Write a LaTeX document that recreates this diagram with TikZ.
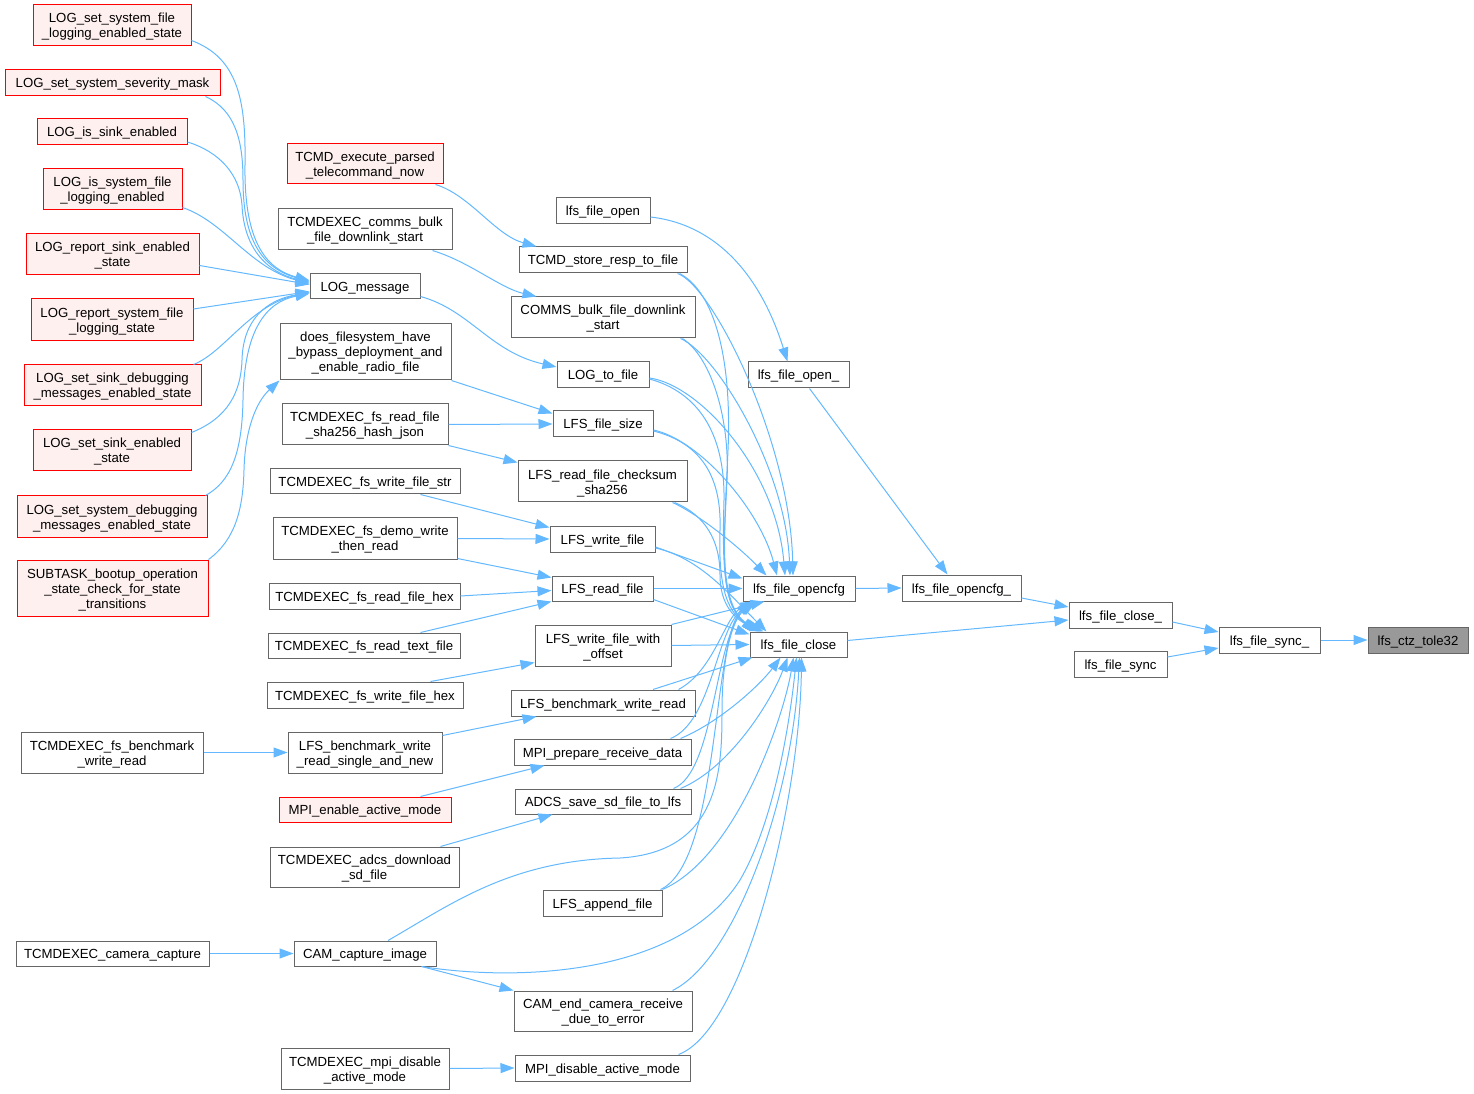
\documentclass[tikz,border=0pt]{standalone}
\usepackage{fontspec}
\setmainfont{Liberation Sans}
\usetikzlibrary{arrows.meta,calc}
\definecolor{edgec}{HTML}{63B8FF}
\definecolor{boxc}{HTML}{666666}
\definecolor{redc}{HTML}{FF0000}
\definecolor{redf}{HTML}{FFF0F0}
\definecolor{rootf}{HTML}{999999}
\tikzset{
 nbase/.style={rectangle, draw=boxc, fill=white, line width=0.75pt, inner sep=0pt, align=center, text=black, font=\fontsize{9.9}{11.25}\selectfont},
 gbox/.style={nbase},
 rbox/.style={nbase, draw=redc, fill=redf},
 rootbox/.style={nbase, fill=rootf},
 cedge/.style={draw=edgec, line width=0.75pt, -{Triangle[length=10.5pt,width=7.5pt]}},
}
\newcommand{\topstrut}{\rule{0pt}{10pt}}
\newcommand{\botstrut}{\rule[-2.5pt]{0pt}{2.5pt}}
\newcommand{\bx}[7]{\node[#7, minimum width={(#4-#2)*0.75pt}, minimum height={(#5-#3)*0.75pt}] (#1) at ({(#2+#4)/2},{(#3+#5)/2}) {\topstrut#6\botstrut};}
\begin{document}
\begin{tikzpicture}[x=0.75pt,y=-0.75pt]
\useasboundingbox (0,0) rectangle (1474,1094);
% column 1
\bx{lsfl}{33}{5}{191}{46}{LOG\_set\_system\_file\\\_logging\_enabled\_state}{rbox}
\bx{lssm}{5}{70}{220}{96}{LOG\_set\_system\_severity\_mask}{rbox}
\bx{lise}{37}{119}{187}{145}{LOG\_is\_sink\_enabled}{rbox}
\bx{lisf}{43}{169}{182}{210}{LOG\_is\_system\_file\\\_logging\_enabled}{rbox}
\bx{lrse}{26}{234}{199}{275}{LOG\_report\_sink\_enabled\\\_state}{rbox}
\bx{lrsf}{31}{299}{193}{341}{LOG\_report\_system\_file\\\_logging\_state}{rbox}
\bx{lssd}{24}{365}{201}{406}{LOG\_set\_sink\_debugging\\\_messages\_enabled\_state}{rbox}
\bx{lsse}{33}{430}{191}{471}{LOG\_set\_sink\_enabled\\\_state}{rbox}
\bx{lsyd}{17}{496}{207}{537}{LOG\_set\_system\_debugging\\\_messages\_enabled\_state}{rbox}
\bx{sub}{17}{560}{208}{616}{SUBTASK\_bootup\_operation\\\_state\_check\_for\_state\\\_transitions}{rbox}
\bx{tbw}{21}{732}{203}{773}{TCMDEXEC\_fs\_benchmark\\\_write\_read}{gbox}
\bx{tcc}{16}{941}{209}{966}{TCMDEXEC\_camera\_capture}{gbox}
% column 2
\bx{tcmdexe}{287}{144}{443}{184}{TCMD\_execute\_parsed\\\_telecommand\_now}{rbox}
\bx{tcbf}{278}{209}{452}{250}{TCMDEXEC\_comms\_bulk\\\_file\_downlink\_start}{gbox}
\bx{logm}{310}{274}{420}{299}{LOG\_message}{gbox}
\bx{dfs}{280}{324}{451}{380}{does\_filesystem\_have\\\_bypass\_deployment\_and\\\_enable\_radio\_file}{gbox}
\bx{tfsh}{282}{404}{448}{445}{TCMDEXEC\_fs\_read\_file\\\_sha256\_hash\_json}{gbox}
\bx{tfws}{270}{469}{460}{494}{TCMDEXEC\_fs\_write\_file\_str}{gbox}
\bx{tfdw}{273}{518}{457}{559}{TCMDEXEC\_fs\_demo\_write\\\_then\_read}{gbox}
\bx{tfrh}{269}{583}{460}{609}{TCMDEXEC\_fs\_read\_file\_hex}{gbox}
\bx{tfrt}{268}{633}{460}{658}{TCMDEXEC\_fs\_read\_text\_file}{gbox}
\bx{tfwh}{267}{682}{463}{708}{TCMDEXEC\_fs\_write\_file\_hex}{gbox}
\bx{lbs}{288}{732}{442}{773}{LFS\_benchmark\_write\\\_read\_single\_and\_new}{gbox}
\bx{mea}{279}{797}{451}{822}{MPI\_enable\_active\_mode}{rbox}
\bx{tadd}{270}{847}{459}{887}{TCMDEXEC\_adcs\_download\\\_sd\_file}{gbox}
\bx{cci}{294}{941}{436}{966}{CAM\_capture\_image}{gbox}
\bx{tmda}{281}{1048}{449}{1089}{TCMDEXEC\_mpi\_disable\\\_active\_mode}{gbox}
% column 3
\bx{lfo}{556}{198}{650}{224}{lfs\_file\_open}{gbox}
\bx{tsr}{519}{247}{687}{273}{TCMD\_store\_resp\_to\_file}{gbox}
\bx{cbf}{511}{297}{695}{338}{COMMS\_bulk\_file\_downlink\\\_start}{gbox}
\bx{ltf}{557}{362}{649}{388}{LOG\_to\_file}{gbox}
\bx{lfsz}{553}{411}{653}{437}{LFS\_file\_size}{gbox}
\bx{lrfc}{518}{461}{687}{502}{LFS\_read\_file\_checksum\\\_sha256}{gbox}
\bx{lwf}{550}{526}{655}{552}{LFS\_write\_file}{gbox}
\bx{lrf}{552}{576}{653}{601}{LFS\_read\_file}{gbox}
\bx{lwfo}{535}{625}{671}{666}{LFS\_write\_file\_with\\\_offset}{gbox}
\bx{lbwr}{511}{690}{695}{716}{LFS\_benchmark\_write\_read}{gbox}
\bx{mprd}{514}{739}{691}{765}{MPI\_prepare\_receive\_data}{gbox}
\bx{adcs}{515}{789}{691}{814}{ADCS\_save\_sd\_file\_to\_lfs}{gbox}
\bx{laf}{543}{890}{662}{916}{LFS\_append\_file}{gbox}
\bx{cec}{514}{991}{692}{1031}{CAM\_end\_camera\_receive\\\_due\_to\_error}{gbox}
\bx{mda}{515}{1055}{690}{1081}{MPI\_disable\_active\_mode}{gbox}
% right part
\bx{lfopu}{748}{362}{849}{388}{lfs\_file\_open\_}{gbox}
\bx{ofc}{743}{576}{855}{601}{lfs\_file\_opencfg}{gbox}
\bx{lfc}{750}{632}{847}{657}{lfs\_file\_close}{gbox}
\bx{ofcu}{902}{575}{1021}{601}{lfs\_file\_opencfg\_}{gbox}
\bx{lfcu}{1069}{602}{1172}{628}{lfs\_file\_close\_}{gbox}
\bx{lsync}{1074}{651}{1167}{677}{lfs\_file\_sync}{gbox}
\bx{lsyncu}{1219}{627}{1320}{653}{lfs\_file\_sync\_}{gbox}
\bx{root}{1368}{627}{1468}{653}{lfs\_ctz\_tole32}{rootbox}

% edges into LOG_message
\draw[cedge] ($(lsfl.south east)+(0,-6)$) .. controls (238,58) and (246,100) .. (245,165) .. controls (244,235) and (262,268) .. ($(logm.west)+(0,-6)$);
\draw[cedge] ($(lssm.south east)+(-15,0)$) .. controls (235,110) and (243,140) .. (243,180) .. controls (243,240) and (262,268) .. ($(logm.west)+(0,-5)$);
\draw[cedge] ($(lise.east)+(0,10)$) .. controls (220,152) and (240,175) .. (242,205) .. controls (244,250) and (268,272) .. ($(logm.west)+(0,-4)$);
\draw[cedge] ($(lisf.south east)+(0,-3)$) .. controls (225,222) and (250,268) .. ($(logm.west)+(0,-3)$);
\draw[cedge] ($(lrse.east)+(0,11)$) -- ($(logm.west)+(0,-2)$);
\draw[cedge] ($(lrsf.east)+(0,-11)$) -- ($(logm.west)+(0,5)$);
\draw[cedge] ($(lssd.north east)+(-8,0)$) .. controls (225,352) and (250,305) .. ($(logm.west)+(0,6)$);
\draw[cedge] ($(lsse.north east)+(0,3)$) .. controls (228,418) and (241,392) .. (242,360) .. controls (243,320) and (266,300) .. ($(logm.west)+(0,6)$);
\draw[cedge] ($(lsyd.north east)+(-2,0)$) .. controls (230,482) and (242,455) .. (243,400) .. controls (244,330) and (266,302) .. ($(logm.west)+(0,7)$);
\draw[cedge] (sub.north east) .. controls (235,540) and (243,510) .. (244,470) .. controls (245,430) and (256,402) .. (dfs.south west);

% column 1/2 -> column 2/3
\draw[cedge] ($(tcmdexe.south east)+(-8,0)$) .. controls (470,195) and (495,235) .. ($(tsr.north west)+(18,0)$);
\draw[cedge] ($(tcbf.south east)+(-20,0)$) .. controls (470,262) and (500,288) .. ($(cbf.north west)+(26,0)$);
\draw[cedge] ($(logm.south east)+(0,-3)$) .. controls (470,310) and (490,352) .. ($(ltf.west)+(0,-8)$);
\draw[cedge] (dfs.south east) -- ($(lfsz.north west)+(0,3)$);
\draw[cedge] (tfsh.east) -- (lfsz.west);
\draw[cedge] (tfsh.south east) -- ($(lrfc.north west)+(0,2)$);
\draw[cedge] ($(tfws.south east)+(-40,0)$) -- ($(lwf.north west)+(0,2)$);
\draw[cedge] (tfdw.east) -- (lwf.west);
\draw[cedge] ($(tfdw.south east)+(0,-1)$) -- ($(lrf.north west)+(0,2)$);
\draw[cedge] (tfrh.east) -- ($(lrf.west)+(0,2)$);
\draw[cedge] ($(tfrt.north east)+(-40,0)$) -- (lrf.south west);
\draw[cedge] ($(tfwh.north east)+(-33,0)$) -- ($(lwfo.south west)+(0,-4)$);
\draw[cedge] ($(lbs.north east)+(0,4)$) -- ($(lbwr.south west)+(26,0)$);
\draw[cedge] (tbw.east) -- (lbs.west);
\draw[cedge] ($(mea.north east)+(-31,0)$) -- ($(mprd.south west)+(31,0)$);
\draw[cedge] ($(tadd.north east)+(-19,0)$) -- ($(adcs.south west)+(38,0)$);
\draw[cedge] (tcc.east) -- (cci.west);
\draw[cedge] ($(cci.south east)+(-15,0)$) -- (cec.north west);
\draw[cedge] (tmda.east) -- (mda.west);

% right part
\draw[cedge] ($(lfo.east)+(0,6)$) .. controls (720,225) and (762,280) .. ($(lfopu.north)+(-11,0)$);
\draw[cedge] ($(lfopu.south)+(11,0)$) -- ($(ofcu.north)+(-14,0)$);
\draw[cedge] (ofc.east) -- (ofcu.west);
\draw[cedge] ($(ofcu.east)+(0,10)$) -- ($(lfcu.west)+(0,-8)$);
\draw[cedge] ($(lfc.east)+(0,-4)$) -- ($(lfcu.west)+(0,5)$);
\draw[cedge] ($(lfcu.east)+(0,7)$) -- ($(lsyncu.west)+(0,-8)$);
\draw[cedge] ($(lsync.east)+(0,-7)$) -- ($(lsyncu.west)+(0,8)$);
\draw[cedge] (lsyncu.east) -- (root.west);

% bundle from above into opencfg / close
\draw[cedge] ($(tsr.south east)+(-10,0)$) .. controls (712,285) and (790,440) .. ($(ofc.north)+(-6,0)$);
\draw[cedge] ($(tsr.south east)+(-8,0)$) .. controls (715,292) and (732,360) .. (728,450) .. controls (724,540) and (718,600) .. ($(lfc.north west)+(6,0)$);
\draw[cedge] ($(cbf.south east)+(-15,0)$) .. controls (718,355) and (786,470) .. ($(ofc.north)+(-9,0)$);
\draw[cedge] ($(cbf.south east)+(-13,0)$) .. controls (712,358) and (730,420) .. (727,480) .. controls (723,560) and (720,605) .. ($(lfc.north west)+(8,0)$);
\draw[cedge] ($(ltf.east)+(0,3)$) .. controls (700,385) and (776,470) .. ($(ofc.north)+(-14,0)$);
\draw[cedge] ($(ltf.east)+(0,4)$) .. controls (697,392) and (725,432) .. (724,500) .. controls (722,570) and (724,610) .. ($(lfc.north west)+(10,0)$);
\draw[cedge] ($(lfsz.east)+(0,6)$) .. controls (700,440) and (760,510) .. ($(ofc.north)+(-22,0)$);
\draw[cedge] ($(lfsz.east)+(0,7)$) .. controls (697,442) and (722,472) .. (720,530) .. controls (718,590) and (728,615) .. ($(lfc.north west)+(12,0)$);
\draw[cedge] ($(lrfc.south east)+(-15,0)$) .. controls (700,515) and (740,548) .. ($(ofc.north west)+(24,0)$);
\draw[cedge] ($(lrfc.south east)+(-13,0)$) .. controls (705,515) and (720,540) .. (720,575) .. controls (720,605) and (735,620) .. ($(lfc.north west)+(14,0)$);
\draw[cedge] ($(lwf.east)+(0,8)$) -- ($(ofc.west)+(0,-10)$);
\draw[cedge] ($(lwf.east)+(0,9)$) .. controls (700,558) and (730,595) .. ($(lfc.north west)+(17,0)$);
\draw[cedge] (lrf.east) -- (ofc.west);
\draw[cedge] ($(lrf.south east)+(0,-2)$) -- ($(lfc.north west)+(0,3)$);
\draw[cedge] (lwfo.north east) -- ($(ofc.south west)+(22,0)$);
\draw[cedge] (lwfo.east) -- (lfc.west);

% bundle from below
\draw[cedge] ($(lbwr.north east)+(-17,0)$) .. controls (715,670) and (725,615) .. ($(ofc.south west)+(12,0)$);
\draw[cedge] ($(lbwr.north)+(50,0)$) -- ($(lfc.south west)+(3,0)$);
\draw[cedge] ($(mprd.north east)+(-21,0)$) .. controls (712,722) and (716,630) .. ($(ofc.south west)+(10,0)$);
\draw[cedge] ($(mprd.north east)+(-11,0)$) .. controls (720,722) and (760,685) .. ($(lfc.south)+(-18,0)$);
\draw[cedge] ($(adcs.north east)+(-18,0)$) .. controls (715,772) and (714,640) .. ($(ofc.south west)+(10,0)$);
\draw[cedge] ($(adcs.north east)+(-11,0)$) .. controls (730,768) and (772,700) .. ($(lfc.south)+(-11,0)$);
\draw[cedge] ($(laf.north east)+(-2,0)$) .. controls (720,862) and (712,640) .. ($(ofc.south west)+(8,0)$);
\draw[cedge] (laf.north east) .. controls (735,858) and (783,720) .. ($(lfc.south)+(-5,0)$);
\draw[cedge] ($(cci.north)+(23,0)$) .. controls (450,905) and (510,860) .. (620,858) .. controls (720,852) and (722,770) .. (722,710) .. controls (722,650) and (735,615) .. ($(ofc.south west)+(14,0)$);
\draw[cedge] ($(cci.south east)+(-15,0)$) .. controls (520,982) and (680,975) .. (740,880) .. controls (775,820) and (790,720) .. ($(lfc.south)+(-2,0)$);
\draw[cedge] ($(cec.north east)+(-20,0)$) .. controls (735,960) and (792,800) .. ($(lfc.south)+(1,0)$);
\draw[cedge] ($(mda.north east)+(-12,0)$) .. controls (745,1030) and (800,800) .. ($(lfc.south)+(3,0)$);
\end{tikzpicture}
\end{document}
